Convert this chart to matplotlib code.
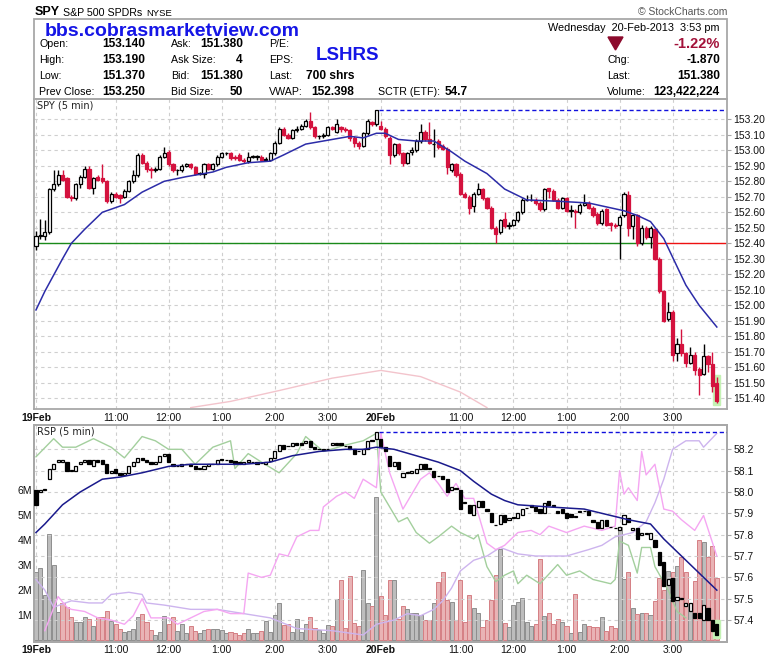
import numpy as np
import matplotlib.pyplot as plt
from matplotlib.patches import Rectangle, Polygon

plt.rcParams['font.family'] = ['Liberation Sans', 'DejaVu Sans']

# ---- SPY 5 min bars, 19 Feb 9:30 .. 20 Feb 3:50 ----
spy_open = [152.38, 152.45, 152.45, 152.47, 152.75, 152.78, 152.84, 152.82, 152.70, 152.69,
            152.78, 152.83, 152.88, 152.76, 152.83, 152.82, 152.80, 152.67, 152.72, 152.71,
            152.70, 152.74, 152.80, 152.84, 152.97, 152.92, 152.88, 152.87, 152.88, 152.96,
            152.99, 152.91, 152.87, 152.87, 152.90, 152.91, 152.89, 152.85, 152.85, 152.91,
            152.88, 152.91, 152.96, 152.98, 152.98, 152.96, 152.97, 152.94, 152.93, 152.96,
            152.96, 152.96, 152.94, 152.94, 152.98, 153.05, 153.14, 153.10, 153.08, 153.13,
            153.14, 153.16, 153.19, 153.15, 153.09, 153.09, 153.10, 153.15, 153.12, 153.15,
            153.14, 153.13, 153.08, 153.05, 153.03, 153.11, 153.18, 153.17,
            153.16, 153.14, 153.08, 152.97, 153.04, 152.98, 152.92, 152.99, 153.00, 153.06,
            153.12, 153.07, 153.04, 153.06, 153.03, 153.01, 152.87, 152.91, 152.85, 152.72,
            152.70, 152.64, 152.72, 152.75, 152.69, 152.63, 152.50, 152.47, 152.56, 152.51,
            152.52, 152.55, 152.60, 152.68, 152.68, 152.68, 152.66, 152.62, 152.76, 152.74,
            152.68, 152.63, 152.69, 152.61, 152.61, 152.60, 152.65, 152.66, 152.63, 152.59,
            152.53, 152.62, 152.53, 152.52, 152.52, 152.58, 152.71, 152.51, 152.58, 152.40,
            152.50, 152.44, 152.49, 152.30, 152.09, 151.91, 151.96, 151.69, 151.75, 151.69,
            151.63, 151.68, 151.59, 151.56, 151.67, 151.62, 151.50]
spy_close = [152.45, 152.45, 152.47, 152.75, 152.78, 152.84, 152.81, 152.70, 152.69, 152.78,
             152.83, 152.88, 152.76, 152.82, 152.81, 152.80, 152.67, 152.72, 152.70, 152.69,
             152.74, 152.80, 152.84, 152.97, 152.92, 152.88, 152.87, 152.88, 152.96, 152.98,
             152.91, 152.87, 152.87, 152.90, 152.91, 152.89, 152.85, 152.85, 152.91, 152.88,
             152.91, 152.96, 152.98, 152.98, 152.95, 152.95, 152.94, 152.93, 152.96, 152.96,
             152.96, 152.94, 152.94, 152.98, 153.05, 153.14, 153.10, 153.08, 153.13, 153.14,
             153.16, 153.19, 153.15, 153.09, 153.09, 153.10, 153.15, 153.14, 153.17, 153.14,
             153.13, 153.08, 153.05, 153.03, 153.11, 153.19, 153.17, 153.26,
             153.14, 153.09, 152.97, 153.04, 152.98, 152.92, 152.98, 153.00, 153.06, 153.12,
             153.07, 153.05, 153.04, 153.02, 153.01, 152.89, 152.91, 152.84, 152.72, 152.70,
             152.63, 152.72, 152.75, 152.69, 152.63, 152.50, 152.46, 152.55, 152.51, 152.52,
             152.55, 152.60, 152.68, 152.68, 152.68, 152.66, 152.62, 152.75, 152.74, 152.68,
             152.63, 152.69, 152.61, 152.61, 152.60, 152.65, 152.66, 152.63, 152.58, 152.53,
             152.61, 152.52, 152.52, 152.51, 152.57, 152.72, 152.50, 152.58, 152.40, 152.50,
             152.44, 152.50, 152.30, 152.09, 151.90, 151.96, 151.68, 151.75, 151.69, 151.63,
             151.68, 151.58, 151.55, 151.67, 151.62, 151.48, 151.38]
spy_high = [152.48, 152.56, 152.55, 152.76, 152.87, 152.87, 152.87, 152.83, 152.71, 152.79,
            152.84, 152.90, 152.90, 152.83, 152.84, 152.91, 152.81, 152.73, 152.73, 152.72,
            152.75, 152.81, 152.87, 152.98, 152.98, 152.93, 152.89, 152.89, 152.97, 153.02,
            153.00, 152.92, 152.88, 152.91, 152.92, 152.92, 152.90, 152.86, 152.92, 152.92,
            152.92, 152.97, 152.99, 152.99, 152.99, 152.97, 152.98, 152.95, 152.99, 152.97,
            152.97, 152.97, 152.96, 152.99, 153.06, 153.15, 153.15, 153.11, 153.14, 153.16,
            153.17, 153.20, 153.25, 153.16, 153.10, 153.11, 153.16, 153.16, 153.20, 153.16,
            153.15, 153.14, 153.09, 153.06, 153.12, 153.20, 153.19, 153.26,
            153.19, 153.15, 153.09, 153.05, 153.05, 152.99, 152.99, 153.02, 153.07, 153.17,
            153.13, 153.18, 153.14, 153.07, 153.04, 153.02, 152.92, 152.92, 152.86, 152.73,
            152.71, 152.73, 152.79, 152.76, 152.70, 152.64, 152.51, 152.56, 152.60, 152.54,
            152.56, 152.61, 152.69, 152.71, 152.72, 152.69, 152.67, 152.76, 152.76, 152.75,
            152.69, 152.70, 152.70, 152.65, 152.62, 152.66, 152.72, 152.67, 152.64, 152.60,
            152.62, 152.63, 152.54, 152.53, 152.58, 152.73, 152.74, 152.59, 152.59, 152.52,
            152.51, 152.51, 152.50, 152.31, 152.10, 152.02, 151.97, 151.79, 151.85, 151.70,
            151.73, 151.70, 151.60, 151.75, 151.68, 151.70, 151.54]
spy_low = [152.36, 152.43, 152.42, 152.46, 152.74, 152.77, 152.80, 152.69, 152.67, 152.68,
           152.76, 152.82, 152.75, 152.72, 152.80, 152.79, 152.66, 152.66, 152.69, 152.66,
           152.69, 152.73, 152.79, 152.83, 152.91, 152.86, 152.82, 152.86, 152.87, 152.95,
           152.90, 152.86, 152.84, 152.86, 152.89, 152.88, 152.84, 152.84, 152.82, 152.87,
           152.87, 152.90, 152.95, 152.97, 152.94, 152.94, 152.93, 152.92, 152.92, 152.95,
           152.94, 152.93, 152.93, 152.93, 152.97, 153.04, 153.09, 153.07, 153.07, 153.12,
           153.13, 153.15, 153.14, 153.08, 153.07, 153.08, 153.09, 153.13, 153.11, 153.12,
           153.12, 153.06, 153.02, 153.01, 153.02, 153.10, 153.16, 153.16,
           153.13, 153.08, 152.91, 152.96, 152.97, 152.90, 152.91, 152.97, 152.99, 153.05,
           153.06, 153.04, 152.96, 153.01, 153.00, 152.85, 152.86, 152.83, 152.71, 152.69,
           152.59, 152.60, 152.71, 152.68, 152.62, 152.49, 152.40, 152.46, 152.50, 152.49,
           152.51, 152.54, 152.59, 152.67, 152.67, 152.65, 152.61, 152.61, 152.69, 152.67,
           152.62, 152.62, 152.60, 152.57, 152.50, 152.59, 152.64, 152.62, 152.57, 152.52,
           152.52, 152.51, 152.48, 152.50, 152.30, 152.57, 152.45, 152.43, 152.38, 152.39,
           152.43, 152.37, 152.29, 152.08, 151.89, 151.90, 151.64, 151.64, 151.67, 151.60,
           151.62, 151.55, 151.42, 151.55, 151.57, 151.44, 151.37]

# SPY volume, millions
spy_vol = [2.73, 2.87, 1.8, 4.24, 3.0, 1.13, 1.47, 1.31, 0.91, 0.73, 0.73, 0.91, 0.83, 0.56,
           0.93, 0.91, 1.16, 0.76, 0.64, 0.43, 0.33, 0.37, 0.43, 0.91, 1.04, 0.73, 0.40, 0.20,
           0.33, 0.96, 0.64, 0.91, 0.37, 0.64, 0.29, 0.56, 0.37, 0.27, 0.40, 0.43, 0.43, 0.43,
           0.40, 0.27, 0.33, 0.27, 0.20, 0.27, 0.43, 0.29, 0.27, 0.37, 0.76,
           0.33, 1.0, 1.47, 0.6, 0.64, 0.33, 0.83, 0.33, 0.64, 0.91, 0.47, 0.4, 0.29, 0.6, 0.56,
           1.63, 2.4, 0.47, 2.56, 0.69, 0.56, 2.8, 1.49, 1.36, 5.71, 1.76, 1.0, 2.4, 2.4, 0.83,
           1.36, 1.23, 1.09, 1.07, 1.0, 0.8, 0.8, 1.49, 2.33, 2.73, 1.6, 1.53, 0.8, 2.4, 0.73,
           1.8, 1.27, 1.09, 0.51, 0.8, 1.6, 2.6, 3.63,
           0.67, 0.51, 1.4, 1.53, 1.67, 0.73, 0.56, 0.64, 3.23, 0.96, 1.09, 0.64, 0.83, 0.73,
           0.56, 0.27, 1.84, 0.33, 0.64, 0.56, 0.53, 0.51, 0.91, 0.37, 0.56, 0.47, 4.53, 2.43,
           2.73, 1.27, 1.04, 1.09, 1.09, 1.0, 1.56, 2.47, 2.0, 2.77, 2.73, 2.96, 3.31, 2.73,
           1.44, 2.37, 3.99, 3.93, 3.31, 3.76, 2.47]

# RSP 5 min bars
rsp_open = [58.01, 58.00, 58.01, 58.06, 58.11, 58.14, 58.14, 58.14, 58.10, 58.10,
            58.13, 58.14, 58.15, 58.12, 58.15, 58.15, 58.13, 58.09, 58.11, 58.09,
            58.08, 58.09, 58.12, 58.14, 58.16, 58.15, 58.14, 58.13, 58.14, 58.17,
            58.18, 58.13, 58.12, 58.12, 58.13, 58.13, 58.12, 58.11, 58.11, 58.12,
            58.13, 58.13, 58.155, 58.15, 58.15, 58.145, 58.14, 58.13, 58.14, 58.14,
            58.14, 58.135, 58.13, 58.145, 58.16, 58.19, 58.22, 58.215, 58.215, 58.23,
            58.23, 58.23, 58.24, 58.21, 58.20, 58.20, 58.20, 58.22, 58.23, 58.23,
            58.215, 58.215, 58.20, 58.19, 58.18, 58.20, 58.24, 58.25,
            58.25, 58.21, 58.17, 58.12, 58.14, 58.07, 58.09, 58.09, 58.09, 58.11,
            58.13, 58.11, 58.10, 58.075, 58.075, 58.06, 58.01, 58.015, 58.01, 57.95,
            57.94, 57.89, 57.93, 57.96, 57.92, 57.90, 57.845, 57.85, 57.89, 57.87,
            57.88, 57.88, 57.89, 57.925, 57.94, 57.93, 57.92, 57.90, 57.96, 57.935,
            57.91, 57.92, 57.90, 57.895, 57.885, 57.905, 57.91, 57.91, 57.87, 57.86,
            57.83, 57.87, 57.835, 57.83, 57.82, 57.85, 57.88, 57.82, 57.83, 57.80,
            57.805, 57.78, 57.775, 57.72, 57.67, 57.565, 57.595, 57.495, 57.50, 57.465,
            57.44, 57.435, 57.435, 57.40, 57.455, 57.40, 57.38]
rsp_close = [57.94, 58.01, 58.01, 58.11, 58.13, 58.15, 58.15, 58.10, 58.10, 58.12,
             58.14, 58.15, 58.13, 58.15, 58.14, 58.13, 58.09, 58.10, 58.09, 58.08,
             58.09, 58.12, 58.14, 58.16, 58.15, 58.14, 58.13, 58.14, 58.17, 58.18,
             58.14, 58.12, 58.12, 58.13, 58.13, 58.12, 58.11, 58.11, 58.12, 58.13,
             58.13, 58.15, 58.15, 58.15, 58.14, 58.13, 58.13, 58.14, 58.15, 58.14,
             58.13, 58.135, 58.14, 58.16, 58.19, 58.22, 58.20, 58.215, 58.23, 58.22,
             58.22, 58.24, 58.21, 58.20, 58.20, 58.195, 58.20, 58.23, 58.22, 58.22,
             58.215, 58.20, 58.18, 58.19, 58.20, 58.24, 58.245, 58.28,
             58.21, 58.19, 58.12, 58.14, 58.11, 58.09, 58.09, 58.10, 58.11, 58.13,
             58.11, 58.11, 58.07, 58.075, 58.06, 58.00, 58.025, 58.015, 57.92, 57.95,
             57.90, 57.94, 57.96, 57.93, 57.91, 57.86, 57.845, 57.89, 57.86, 57.88,
             57.88, 57.90, 57.92, 57.925, 57.93, 57.91, 57.90, 57.95, 57.94, 57.935,
             57.90, 57.90, 57.88, 57.885, 57.885, 57.91, 57.91, 57.89, 57.86, 57.83,
             57.87, 57.84, 57.835, 57.83, 57.835, 57.89, 57.86, 57.83, 57.78, 57.81,
             57.805, 57.81, 57.74, 57.66, 57.56, 57.59, 57.49, 57.51, 57.50, 57.48,
             57.48, 57.41, 57.41, 57.47, 57.40, 57.35, 57.33]

# moving averages as plotted (bar index, value)
spy_ma_idx = [0, 2, 6, 8, 11, 15, 20, 24, 29, 34, 40, 43, 48, 53, 56, 61, 67, 71, 74, 77,
              79, 82, 86, 90, 94, 97, 102, 106, 111, 119, 125, 133, 136, 139, 142, 144, 147, 150, 154]
spy_ma = [151.97, 152.09, 152.30, 152.40, 152.49, 152.60, 152.65, 152.73, 152.80, 152.83,
          152.86, 152.89, 152.92, 152.93, 152.97, 153.04, 153.07, 153.09, 153.08, 153.11,
          153.11, 153.07, 153.06, 153.06, 152.99, 152.93, 152.85, 152.75, 152.68, 152.67,
          152.66, 152.61, 152.58, 152.54, 152.43, 152.31, 152.13, 152.00, 151.86]
rsp_ma_idx = [0, 2, 6, 10, 15, 19, 24, 30, 35, 41, 47, 53, 58, 64, 70, 74, 77, 81, 86, 91,
              96, 99, 103, 106, 109, 116, 124, 130, 134, 139, 142, 146, 150, 154]
rsp_ma = [57.81, 57.85, 57.94, 58.00, 58.06, 58.07, 58.09, 58.12, 58.13, 58.13,
          58.13, 58.14, 58.17, 58.19, 58.20, 58.20, 58.21, 58.20, 58.17, 58.14,
          58.10, 58.05, 57.99, 57.96, 57.94, 57.93, 57.92, 57.89, 57.87, 57.85,
          57.78, 57.70, 57.62, 57.54]

# faint overlays (bar index, value on the price scale of their panel)
spy_faint_idx = [35, 44, 55, 67, 78, 87, 96, 102]
spy_faint = [151.34, 151.38, 151.45, 151.53, 151.58, 151.54, 151.44, 151.34]

green_idx = [0, 4, 6, 9, 13, 17, 20, 24, 27, 30, 33, 36, 40, 44, 45, 48, 51, 55, 59, 61,
             65, 70, 74, 77, 78, 80, 82, 84, 86, 89, 91, 94, 96, 99, 100, 102, 104, 106, 108, 109,
             111, 114, 118, 120, 123, 126, 130, 131, 132, 134, 136, 137, 139, 140, 143, 145, 147]
green_vals = [58.165, 58.25, 58.21, 58.21, 58.25, 58.21, 58.16, 58.26, 58.24, 58.20,
              58.20, 58.13, 58.21, 58.24, 58.11, 58.18, 58.14, 58.09, 58.18, 58.26,
              58.19, 58.22, 58.24, 58.275, 58.00, 57.93, 57.86, 57.88, 57.81, 57.76,
              57.79, 57.84, 57.81, 57.78, 57.80, 57.65, 57.58, 57.61, 57.63, 57.57,
              57.61, 57.57, 57.66, 57.61, 57.63, 57.59, 57.57, 57.59, 57.77, 57.75,
              57.62, 57.74, 57.74, 57.65, 57.54, 57.44, 57.41]
pink_idx = [2, 5, 7, 8, 11, 14, 17, 20, 22, 24, 26, 30, 32, 34, 38, 41, 44, 47, 48, 51,
            53, 55, 57, 59, 62, 64, 65, 68, 70, 72, 74, 77, 78, 80, 83, 85, 87, 89, 91, 93,
            95, 97, 99, 102, 104, 106, 109, 112, 114, 116, 120, 124, 128, 131, 132, 133, 134,
            136, 137, 138, 140, 142, 144, 146, 149, 151, 154]
pink_vals = [57.35, 57.51, 57.46, 57.45, 57.44, 57.41, 57.40, 57.38, 57.42, 57.50,
             57.41, 57.41, 57.38, 57.40, 57.44, 57.45, 57.43, 57.43, 57.62, 57.60,
             57.61, 57.71, 57.70, 57.79, 57.82, 57.82, 57.93, 57.98, 58.00, 57.97,
             58.06, 58.02, 58.275, 58.09, 57.92, 57.99, 58.06, 58.09, 58.04, 57.98,
             58.04, 57.97, 57.97, 57.76, 57.73, 57.75, 57.81, 57.82, 57.80, 57.84,
             57.81, 57.84, 57.82, 57.84, 58.10, 57.99, 58.02, 57.96, 58.19, 58.08,
             58.13, 57.92, 57.91, 57.87, 57.82, 57.89, 57.70]
purple_idx = [0, 2, 4, 8, 12, 15, 17, 21, 24, 25, 29, 35, 41, 47, 53, 59, 67, 74, 77, 81,
              84, 87, 90, 92, 94, 96, 99, 102, 105, 109, 113, 116, 120, 125, 128, 131, 135,
              138, 140, 142, 144, 147, 150, 151, 154]
purple_vals = [57.59, 57.54, 57.46, 57.49, 57.48, 57.48, 57.52, 57.53, 57.52, 57.48,
               57.47, 57.45, 57.45, 57.43, 57.41, 57.36, 57.35, 57.33, 57.38, 57.40,
               57.43, 57.42, 57.45, 57.49, 57.55, 57.63, 57.68, 57.70, 57.74, 57.71,
               57.70, 57.70, 57.70, 57.73, 57.75, 57.79, 57.81, 57.86, 57.95, 58.06,
               58.20, 58.24, 58.24, 58.21, 58.275]

hour_idx = [0, 18, 30, 42, 54, 66, 78, 96, 108, 120, 132, 144]
hour_lbl = ['19Feb', '11:00', '12:00', '1:00', '2:00', '3:00',
            '20Feb', '11:00', '12:00', '1:00', '2:00', '3:00']
day2_start = 78
ref_level = 152.40
ref_switch = 139.6

spy_open, spy_close = np.array(spy_open), np.array(spy_close)
spy_high, spy_low = np.array(spy_high), np.array(spy_low)
rsp_open, rsp_close = np.array(rsp_open), np.array(rsp_close)
spy_vol = np.array(spy_vol)
n = len(spy_close)
x = np.arange(n)

RED = '#d4123e'
GRID = '#cfcfcf'
SPINE = '#a8a8a8'

W, H = 780, 659
fig = plt.figure(figsize=(W / 100, H / 100), dpi=100)


def px(l, t, r, b):
    return [l / W, 1 - b / H, (r - l) / W, (b - t) / H]


XLIM = (-0.45, 156.3)

def style_axes(a):
    for s in a.spines.values():
        s.set_color(SPINE)
        s.set_linewidth(1.3)
    a.set_xlim(*XLIM)
    a.set_xticks(hour_idx)
    a.set_xticklabels(hour_lbl)
    for k, t in enumerate(a.get_xticklabels()):
        if hour_lbl[k].endswith('Feb'):
            t.set_fontweight('bold')
    a.tick_params(axis='x', length=0, labelsize=7.5, colors='#111')


# ---------------- main SPY panel ----------------
ax = fig.add_axes(px(34, 99, 727, 409))
style_axes(ax)
ax.tick_params(axis='x', pad=3)
ax.set_ylim(151.331, 153.331)
yt = np.round(np.arange(151.40, 153.21, 0.10), 2)
ax.set_yticks(yt)
ax.set_yticklabels([f'{v:.2f}' for v in yt])
ax.yaxis.tick_right()
ax.tick_params(axis='y', length=3, pad=1.5, labelsize=7.5, color=SPINE, labelcolor='#111')
ax.grid(True, color=GRID, linestyle=(0, (3, 3)), linewidth=0.8)
ax.set_axisbelow(True)

ax.plot(spy_faint_idx, spy_faint, color='#f3c4cc', lw=1, zorder=1)
ax.hlines(ref_level, XLIM[0], ref_switch, color='#1a8a1a', lw=1, zorder=2)
ax.hlines(ref_level, ref_switch, XLIM[1], color='#ee1111', lw=1, zorder=2)
ax.hlines(spy_high[:day2_start].max(), day2_start - 0.4, XLIM[1], color='#1010dd',
          lw=1, linestyles=(0, (3, 2)), zorder=2)
ax.add_patch(Rectangle((n - 1.8, spy_low[-1] - 0.01), 1.6, spy_high[-1] - spy_low[-1] + 0.02,
                       color='#c4f2b4', zorder=1))

up = spy_close >= spy_open
ax.vlines(x, spy_low, spy_high, colors=np.where(up, 'black', RED), lw=1, zorder=3)
body_lo = np.minimum(spy_open, spy_close)
body_h = np.maximum(np.abs(spy_close - spy_open), 0.002)
ax.bar(x, body_h, bottom=body_lo, width=0.72, color=np.where(up, 'white', RED),
       edgecolor=np.where(up, 'black', RED), linewidth=0.9, zorder=4)
ax.plot(spy_ma_idx, spy_ma, color='#2c2ca8', lw=1.1, zorder=5)
ax.text(0.005, 0.995, 'SPY (5 min)', transform=ax.transAxes, va='top', ha='left',
        fontsize=7, family='DejaVu Sans', color='#222')

# ---------------- RSP panel with SPY volume ----------------
axv = fig.add_axes(px(34, 425, 727, 642))
style_axes(axv)
axv.tick_params(axis='x', pad=2.5)
axv.set_ylim(-0.07, 8.6)
axv.set_yticks([1, 2, 3, 4, 5, 6])
axv.set_yticklabels(['1M', '2M', '3M', '4M', '5M', '6M'])
axv.tick_params(axis='y', length=0, pad=1.5, labelsize=7.5, labelcolor='#111')
axv.grid(True, axis='x', color=GRID, linestyle=(0, (3, 3)), linewidth=0.8)
axv.set_axisbelow(True)
vol_up = spy_close >= spy_open
axv.bar(x, spy_vol, width=0.92, color=np.where(vol_up, '#bdbdbd', '#e9b3b5'),
        edgecolor=np.where(vol_up, '#8e8e8e', '#d57f84'), linewidth=0.7, zorder=2)

axp = axv.twinx()
axp.set_xlim(*XLIM)
axp.set_ylim(57.297, 58.314)
pt = np.round(np.arange(57.4, 58.21, 0.1), 1)
axp.set_yticks(pt)
axp.set_yticklabels([f'{v:.1f}' for v in pt])
axp.tick_params(axis='y', length=3, pad=1.5, labelsize=7.5, color=SPINE, labelcolor='#111')
for s in axp.spines.values():
    s.set_color(SPINE)
    s.set_linewidth(1.3)
axp.grid(True, axis='y', color=GRID, linestyle=(0, (3, 3)), linewidth=0.8)

axp.plot(green_idx, green_vals, color='#a3cf9d', lw=1, zorder=2)
axp.plot(purple_idx, purple_vals, color='#cdb4ee', lw=1, zorder=2)
axp.plot(pink_idx, pink_vals, color='#f5a6f2', lw=1, zorder=2)
rsp_day1_high = max(rsp_open[:day2_start].max(), rsp_close[:day2_start].max())
axp.hlines(rsp_day1_high, day2_start - 0.4, XLIM[1], color='#1010dd',
           lw=1, linestyles=(0, (3, 2)), zorder=3)
rlo = min(rsp_open[-1], rsp_close[-1])
rhi = max(rsp_open[-1], rsp_close[-1])
axp.add_patch(Rectangle((n - 1.8, rlo - 0.012), 1.6, rhi - rlo + 0.03,
                        color='#c4f2b4', zorder=2))
rup = rsp_close >= rsp_open
rb_lo = np.minimum(rsp_open, rsp_close)
rb_h = np.maximum(np.abs(rsp_close - rsp_open), 0.002)
axp.bar(x, rb_h, bottom=rb_lo, width=0.72, color=np.where(rup, 'white', 'black'),
        edgecolor='black', linewidth=0.9, zorder=4)
axp.plot(rsp_ma_idx, rsp_ma, color='#1a1a8c', lw=1.1, zorder=5)
axp.text(0.005, 0.995, 'RSP (5 min)', transform=axp.transAxes, va='top', ha='left',
         fontsize=7, family='DejaVu Sans', color='#222')

# ---------------- header ----------------
hd = fig.add_axes([0, 0, 1, 1], zorder=10)
hd.set_xlim(0, W)
hd.set_ylim(H, 0)
hd.axis('off')
hd.patch.set_alpha(0)
hd.add_patch(Rectangle((34, 19), 693, 80, fill=False, edgecolor=SPINE, lw=1.3))

hd.text(35, 12, 'SPY', fontsize=9, fontweight='bold', va='center')
hd.text(63, 12.5, 'S&P 500 SPDRs', fontsize=7.7, va='center')
hd.text(146, 13, 'NYSE', fontsize=6.8, va='center')
hd.text(727, 12, '\u00a9 StockCharts.com', fontsize=7.5, va='center', ha='right', color='#555')

hd.text(45, 31, 'bbs.cobrasmarketview.com', fontsize=14, fontweight='bold',
        color='#1515e6', va='center')
hd.text(316, 55, 'LSHRS', fontsize=13.5, fontweight='bold', color='#1515e6', va='center')

rows = [44, 60, 76, 92]
col1_lbl = ['Open:', 'High:', 'Low:', 'Prev Close:']
col1_val = ['153.140', '153.190', '151.370', '153.250']
col2_lbl = ['Ask:', 'Ask Size:', 'Bid:', 'Bid Size:']
col2_val = ['151.380', '4', '151.380', '50']
col3_lbl = ['P/E:', 'EPS:', 'Last:', 'VWAP:']
col3_val = ['', '', '700 shrs', '152.398']
for k, yy in enumerate(rows):
    hd.text(39, yy, col1_lbl[k], fontsize=7.7, va='center')
    hd.text(145, yy, col1_val[k], fontsize=8.6, fontweight='bold', va='center', ha='right')
    hd.text(171, yy, col2_lbl[k], fontsize=7.7, va='center')
    hd.text(243, yy, col2_val[k], fontsize=8.6, fontweight='bold', va='center', ha='right')
    hd.text(269, yy, col3_lbl[k], fontsize=7.7, va='center')
    hd.text(354, yy, col3_val[k], fontsize=8.6, fontweight='bold', va='center', ha='right')
hd.text(378, 92, 'SCTR (ETF):', fontsize=7.7, va='center')
hd.text(445, 92, '54.7', fontsize=8.6, fontweight='bold', va='center')

hd.text(720, 28, 'Wednesday  20-Feb-2013  3:53 pm', fontsize=7.8, va='center', ha='right')
hd.add_patch(Polygon([(608, 37), (623, 37), (615.5, 50)], closed=True, color='#8c0a2c'))
hd.text(720, 43.5, '-1.22%', fontsize=10.5, fontweight='bold', color='#a3123a',
        va='center', ha='right')
right_lbl = ['Chg:', 'Last:', 'Volume:']
right_val = ['-1.870', '151.380', '123,422,224']
for k, yy in enumerate(rows[1:]):
    hd.text(607, yy, right_lbl[k], fontsize=7.7, va='center')
    hd.text(720, yy, right_val[k], fontsize=8.6, fontweight='bold', va='center', ha='right')

fig.savefig('out.png', dpi=100)
